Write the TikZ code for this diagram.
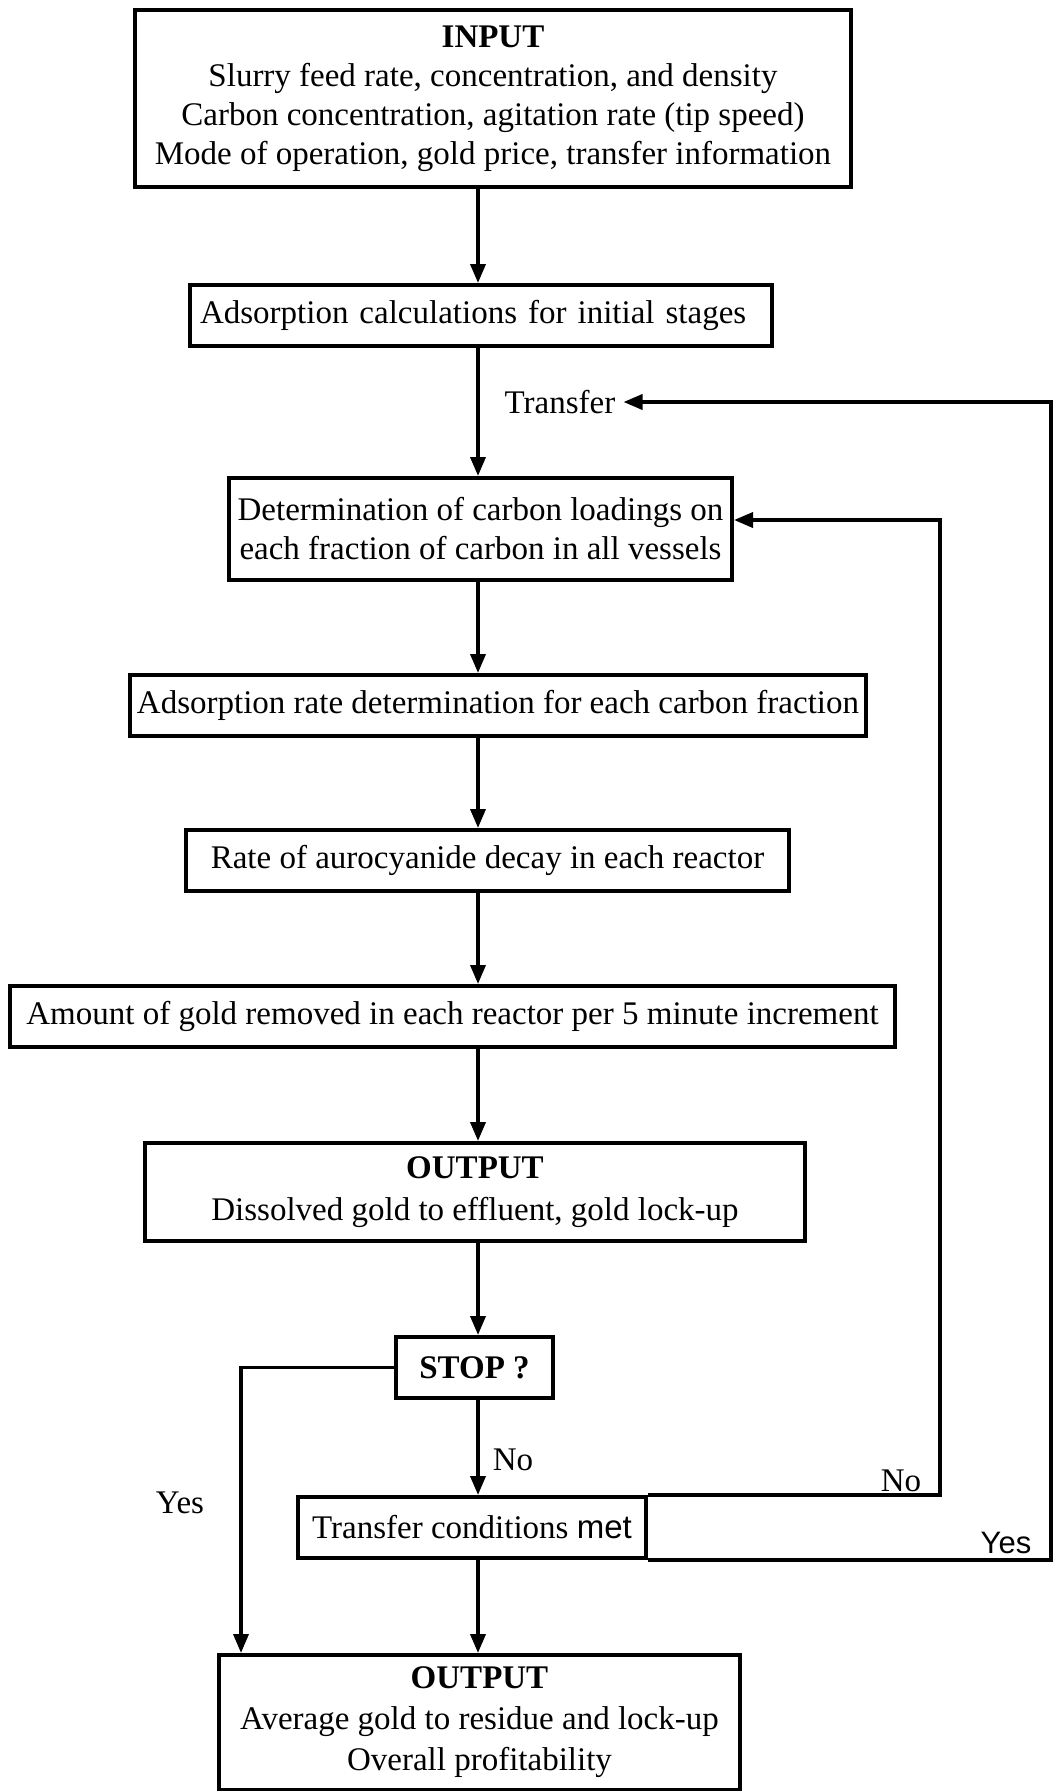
\documentclass[tikz,border=0pt]{standalone}
\usepackage{fontspec}
\setmainfont{Liberation Serif}
\setsansfont{Liberation Sans}
\usetikzlibrary{arrows.meta}
\begin{document}
\begin{tikzpicture}[x=1pt,y=-1pt,
  box/.style={draw, line width=4pt, inner sep=0pt, align=center, font=\fontsize{33}{39}\selectfont},
  lbl/.style={inner sep=0pt, font=\fontsize{33}{39}\selectfont},
  arr/.style={line width=3.6pt, -{Triangle[length=19pt,width=15pt]}}]
\useasboundingbox (0,0) rectangle (1055,1791);
\node[box, minimum width=716pt, minimum height=177pt] (input) at (493,98.5)
  {\textbf{INPUT}\\Slurry feed rate, concentration, and density\\Carbon concentration, agitation rate (tip speed)\\Mode of operation, gold price, transfer information};
\node[box, minimum width=582pt, minimum height=61pt, text width=562pt, align=left] (adsi) at (481,315.5)
  {Adsorption calculations for initial stages};
\node[lbl] (tlab) at (560,402) {Transfer};
\node[box, minimum width=503pt, minimum height=102pt] (det) at (480.5,529)
  {Determination of carbon loadings on\\each fraction of carbon in all vessels};
\node[box, minimum width=736pt, minimum height=61pt] (adsr) at (498,705.5)
  {Adsorption rate determination for each carbon fraction};
\node[box, minimum width=603pt, minimum height=61pt] (rate) at (487.5,860.5)
  {Rate of aurocyanide decay in each reactor};
\node[box, minimum width=885pt, minimum height=61pt] (amount) at (452.5,1016.5)
  {Amount of gold removed in each reactor per 5 minute increment};
\node[box, minimum width=660pt, minimum height=98pt, font=\fontsize{33}{42}\selectfont] (out1) at (475,1192)
  {\textbf{OUTPUT}\\Dissolved gold to effluent, gold lock-up};
\node[box, minimum width=157pt, minimum height=61pt] (stop) at (474.5,1367.5)
  {\textbf{STOP ?}};
\node[box, minimum width=348pt, minimum height=61pt] (tc) at (472,1527.5)
  {Transfer conditions {\sffamily met}};
\node[box, minimum width=521pt, minimum height=135pt, font=\fontsize{33}{41}\selectfont] (out2) at (479.5,1722.5)
  {\textbf{OUTPUT}\\Average gold to residue and lock-up\\Overall profitability};

\node[lbl] (nolab) at (513,1460) {No};
\node[lbl] (nolab2) at (901,1481) {No};
\node[lbl] (yeslab) at (180,1503) {Yes};
\node[lbl, font=\sffamily\fontsize{31}{37}\selectfont] (yeslab2) at (1006,1543) {Yes};

\coordinate (spine) at (478,0);
\draw[arr] (input.south -| spine) -- (adsi.north -| spine);
\draw[arr] (adsi.south -| spine) -- (det.north -| spine);
\draw[arr] (det.south -| spine) -- (adsr.north -| spine);
\draw[arr] (adsr.south -| spine) -- (rate.north -| spine);
\draw[arr] (rate.south -| spine) -- (amount.north -| spine);
\draw[arr] (amount.south -| spine) -- (out1.north -| spine);
\draw[arr] (out1.south -| spine) -- (stop.north -| spine);
\draw[arr] (stop.south -| spine) -- (tc.north -| spine);
\draw[arr] (tc.south -| spine) -- (out2.north -| spine);

\coordinate (ryes) at (1051,402);
\draw[arr] (tc.south east) -- (tc.south east -| ryes) -- (ryes) -- ([xshift=8pt]tlab.east);
\coordinate (rno) at (940,520);
\draw[arr] (tc.north east) -- (tc.north east -| rno) -- (rno) -- (rno -| det.east);
\coordinate (lyes) at (241,0);
\draw[arr] (stop.west) -- (stop.west -| lyes) -- (out2.north -| lyes);
\end{tikzpicture}
\end{document}
